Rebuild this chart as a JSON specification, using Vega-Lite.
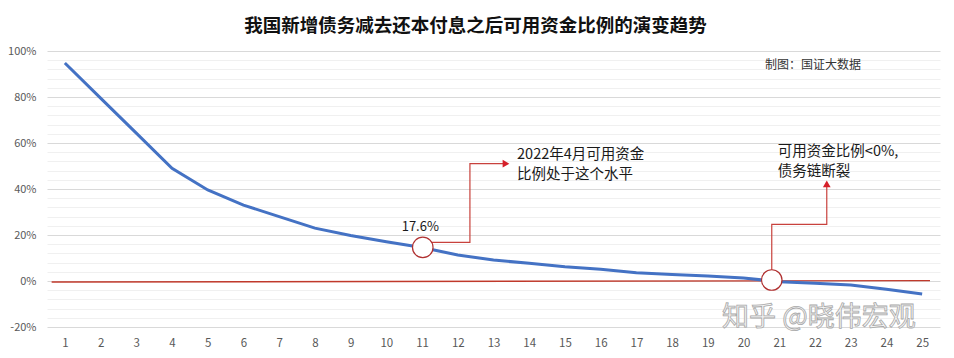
{
  "$schema": "https://vega.github.io/schema/vega-lite/v6.json",
  "autosize": {"type": "none"},
  "padding": {"left": 47, "top": 51, "right": 14, "bottom": 31},
  "width": 893,
  "height": 276,
  "background": "white",
  "title": {
    "text": "我国新增债务减去还本付息之后可用资金比例的演变趋势",
    "font": "Noto Sans CJK SC",
    "fontSize": 18.5,
    "fontWeight": "bold",
    "color": "#111111",
    "anchor": "middle",
    "dx": -18,
    "dy": 21,
    "baseline": "middle",
    "offset": 22
  },
  "config": {
    "view": {"stroke": null},
    "font": "Noto Sans CJK SC"
  },
  "datasets": {
    "blue": [
      {"n": 1, "v": 94.8}, {"n": 2, "v": 79.5}, {"n": 3, "v": 64.3}, {"n": 4, "v": 49.0},
      {"n": 5, "v": 39.6}, {"n": 6, "v": 33.0}, {"n": 7, "v": 28.0}, {"n": 8, "v": 23.0},
      {"n": 9, "v": 19.8}, {"n": 10, "v": 17.1}, {"n": 11, "v": 14.6}, {"n": 12, "v": 11.3},
      {"n": 13, "v": 9.1}, {"n": 14, "v": 7.7}, {"n": 15, "v": 6.2}, {"n": 16, "v": 5.1},
      {"n": 17, "v": 3.6}, {"n": 18, "v": 2.8}, {"n": 19, "v": 2.2}, {"n": 20, "v": 1.3},
      {"n": 21, "v": -0.3}, {"n": 22, "v": -1.0}, {"n": 23, "v": -1.7}, {"n": 24, "v": -3.6},
      {"n": 25, "v": -5.7}
    ],
    "red": [
      {"n": 0.63, "v": -0.45}, {"n": 25.22, "v": 0.15}
    ],
    "connectors": [
      {"g": "a", "i": 1, "n": 11.02, "v": 16.8},
      {"g": "a", "i": 2, "n": 12.34, "v": 16.8},
      {"g": "a", "i": 3, "n": 12.34, "v": 51.0},
      {"g": "a", "i": 4, "n": 13.3, "v": 51.0},
      {"g": "b", "i": 1, "n": 20.79, "v": 0.43},
      {"g": "b", "i": 2, "n": 20.79, "v": 24.65},
      {"g": "b", "i": 3, "n": 22.33, "v": 24.65},
      {"g": "b", "i": 4, "n": 22.33, "v": 41.8}
    ],
    "circles": [
      {"n": 11.02, "v": 14.6},
      {"n": 20.79, "v": 0.43}
    ],
    "arrowRight": [{"n": 13.35, "v": 51.0}],
    "arrowUp": [{"n": 22.33, "v": 42.2}],
    "notes": [
      {"n": 13.66, "v": 54.8, "t": "2022年4月可用资金"},
      {"n": 13.66, "v": 46.1, "t": "比例处于这个水平"},
      {"n": 20.96, "v": 56.2, "t": "可用资金比例<0%,"},
      {"n": 20.96, "v": 47.5, "t": "债务链断裂"}
    ],
    "valueLabel": [{"n": 10.95, "v": 23.5, "t": "17.6%"}],
    "credit": [{"n": 20.6, "v": 93.9, "t": "制图：国证大数据"}],
    "watermark": [{"n": 19.4, "v": -16.1, "t": "知乎 @晓伟宏观"}]
  },
  "encoding": {
    "x": {
      "field": "n", "type": "quantitative",
      "scale": {"domain": [0.5, 25.5], "nice": false, "zero": false},
      "axis": {
        "title": null,
        "values": [1,2,3,4,5,6,7,8,9,10,11,12,13,14,15,16,17,18,19,20,21,22,23,24,25],
        "grid": false, "domain": false, "ticks": false, "tickSize": 0,
        "labelPadding": 10, "labelFontSize": 11.5, "labelColor": "#595959",
        "labelFont": "Noto Sans CJK SC"
      }
    },
    "y": {
      "field": "v", "type": "quantitative",
      "scale": {"domain": [-20, 100], "nice": false, "zero": false},
      "axis": {
        "title": null,
        "values": [-20,-16,-12,-8,-4,0,4,8,12,16,20,24,28,32,36,40,44,48,52,56,60,64,68,72,76,80,84,88,92,96,100],
        "labelExpr": "datum.value % 20 === 0 ? datum.value + '%' : ''",
        "domain": false, "ticks": false, "tickSize": 0,
        "labelPadding": 11, "labelFontSize": 11, "labelColor": "#595959",
        "labelFont": "Noto Sans CJK SC",
        "gridColor": {"condition": {"test": "datum.value % 20 === 0", "value": "#d9d9d9"}, "value": "#f0f0f0"},
        "gridWidth": 1
      }
    }
  },
  "layer": [
    {
      "data": {"name": "red"},
      "mark": {"type": "line", "color": "#c0392b", "strokeWidth": 1.4}
    },
    {
      "data": {"name": "blue"},
      "mark": {"type": "line", "color": "#4472c4", "strokeWidth": 3}
    },
    {
      "data": {"name": "connectors"},
      "mark": {"type": "line", "color": "#c8413c", "strokeWidth": 1.2},
      "encoding": {
        "detail": {"field": "g"},
        "order": {"field": "i", "type": "quantitative"}
      }
    },
    {
      "data": {"name": "circles"},
      "mark": {"type": "point", "shape": "circle", "filled": false, "fill": "white", "fillOpacity": 1, "stroke": "#b03030", "strokeWidth": 1.2, "size": 420, "opacity": 1}
    },
    {
      "data": {"name": "arrowRight"},
      "mark": {"type": "point", "shape": "triangle-right", "filled": true, "color": "#d6202a", "size": 60, "opacity": 1}
    },
    {
      "data": {"name": "arrowUp"},
      "mark": {"type": "point", "shape": "triangle-up", "filled": true, "color": "#d6202a", "size": 60, "opacity": 1}
    },
    {
      "data": {"name": "notes"},
      "mark": {"type": "text", "align": "left", "baseline": "middle", "fontSize": 14.5, "color": "#1a1a1a", "font": "Noto Sans CJK SC"},
      "encoding": {"text": {"field": "t"}}
    },
    {
      "data": {"name": "valueLabel"},
      "mark": {"type": "text", "align": "center", "baseline": "middle", "fontSize": 13, "color": "#1a1a1a", "font": "Noto Sans CJK SC"},
      "encoding": {"text": {"field": "t"}}
    },
    {
      "data": {"name": "credit"},
      "mark": {"type": "text", "align": "left", "baseline": "middle", "fontSize": 12, "color": "#333333", "font": "Noto Sans CJK SC"},
      "encoding": {"text": {"field": "t"}}
    },
    {
      "data": {"name": "watermark"},
      "mark": {"type": "text", "align": "left", "baseline": "middle", "fontSize": 27, "fill": "#f4f4f4", "stroke": "#a8a8a8", "strokeWidth": 0.8, "font": "Noto Sans CJK SC"},
      "encoding": {"text": {"field": "t"}}
    }
  ]
}
